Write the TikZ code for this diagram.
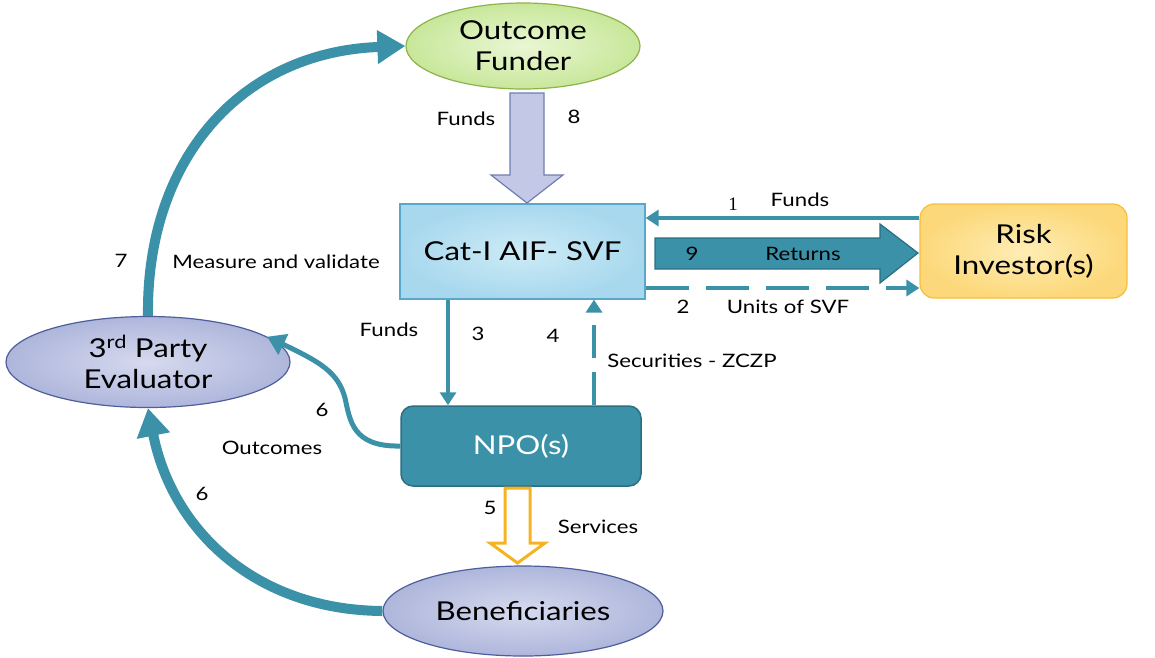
\documentclass[tikz,border=0pt]{standalone}
\usepackage{fontspec}
\setmainfont{Lato}[FakeStretch=1.2]
\newfontfamily\serifone{Liberation Serif}
\usetikzlibrary{arrows.meta,shapes.geometric}
\definecolor{tealc}{HTML}{3A91A8}
\definecolor{tealdk}{HTML}{2C6F83}
\definecolor{lavin}{HTML}{D6DAEF}
\definecolor{lavout}{HTML}{AEB6DB}
\definecolor{lavbd}{HTML}{4E5E9C}
\definecolor{grin}{HTML}{EAF7D4}
\definecolor{grout}{HTML}{C8E79A}
\definecolor{grbd}{HTML}{8DB34A}
\definecolor{bluin}{HTML}{CDEBF6}
\definecolor{bluout}{HTML}{A8D8EE}
\definecolor{blubd}{HTML}{5AA7C8}
\definecolor{yelin}{HTML}{FEEDB4}
\definecolor{yelout}{HTML}{FCD87A}
\definecolor{yelbd}{HTML}{F5BF3A}
\definecolor{orng}{HTML}{F5B324}
\definecolor{arrlav}{HTML}{C3C8E6}
\definecolor{arrlavbd}{HTML}{6D7DB3}
\begin{document}
\begin{tikzpicture}[x=1pt,y=-1pt,
  big/.style={font=\fontsize{26}{31}\selectfont, align=center},
  lbl/.style={font=\fontsize{18.5}{21}\selectfont, inner sep=0pt},
  ell/.style={ellipse, inner sep=0pt, line width=1.2pt, big},
  thin/.style={draw=tealc, line width=4pt, -{Triangle[length=13pt,width=16pt]}},
  thick/.style={draw=tealc, line width=10pt, -{Triangle[length=28pt,width=32pt]}}
]
\useasboundingbox (0,0) rectangle (1155,657);

% nodes
\node[ell, minimum width=234pt, minimum height=86pt, draw=grbd, inner color=grin, outer color=grout] (of) at (523,46) {Outcome\\Funder};
\node[big, rectangle, minimum width=245pt, minimum height=95pt, draw=blubd, line width=1.2pt, inner color=bluin, outer color=bluout] (cat) at (522.5,251.5) {Cat-I AIF- SVF};
\node[big, rectangle, rounded corners=14pt, minimum width=207pt, minimum height=94pt, draw=yelbd, line width=1.2pt, inner color=yelin, outer color=yelout] (ri) at (1023.5,251) {Risk\\Investor(s)};
\node[big, rectangle, rounded corners=12pt, minimum width=240pt, minimum height=80pt, draw=tealdk, line width=1.5pt, fill=tealc, text=white] (npo) at (521,446) {NPO(s)};
\node[ell, minimum width=280pt, minimum height=90pt, draw=lavbd, inner color=lavin, outer color=lavout] (ben) at (523,611) {Beneficiaries};
\node[ell, minimum width=284pt, minimum height=91pt, draw=lavbd, inner color=lavin, outer color=lavout] (ev) at (148,362) {3\textsuperscript{rd} Party\\Evaluator};

% block arrow 8
\draw[draw=arrlavbd, fill=arrlav, line width=1.2pt, line join=miter]
  (510,93) -- (544,93) -- (544,175) -- (563,175) -- (527,203) -- (491,175) -- (510,175) -- cycle;
% block arrow 9
\draw[draw=tealdk, fill=tealc, line width=1.2pt]
  (655,238) -- (880,238) -- (880,224) -- (918,253) -- (880,283) -- (880,269) -- (655,269) -- cycle;
% hollow arrow 5
\draw[draw=orng, line width=3pt, line join=miter]
  (505,488) -- (530,488) -- (530,543) -- (545,543) -- (517.5,563) -- (490,543) -- (505,543) -- cycle;

% thin arrows
\draw[thin] (ri.west |- 0,218) -- (cat.east |- 0,218);
\draw[thin, dash pattern=on 43pt off 17pt] (cat.east |- 0,288) -- (ri.west |- 0,288);
\draw[thin] (cat.south -| 448,0) -- (npo.north -| 448,0);
\draw[thin, dash pattern=on 33pt off 14pt] (npo.north -| 594,0) -- (cat.south -| 594,0);

% curved arrows
\draw[thick] (ev.north) .. controls (146,160) and (240,52) .. (of.west);
\draw[thick] (ben.west) .. controls (255,610) and (172,530) .. (ev.south);
\draw[draw=tealc, line width=5pt, -{Triangle[length=18pt,width=22pt]}]
  (npo.west) .. controls (352,447) and (350,420) .. (345,398) .. controls (338,372) and (320,362) .. (ev.12);

% labels
\node[lbl] (l8a) at (466,119) {Funds};
\node[lbl] (l8b) at (574,117) {8};
\node[lbl, font=\serifone\fontsize{19}{22}\selectfont] (l1a) at (733,204) {1};
\node[lbl] (l1b) at (800,200) {Funds};
\node[lbl] (l9a) at (692,254) {9};
\node[lbl] (l9b) at (803,254) {Returns};
\node[lbl] (l2a) at (683,307) {2};
\node[lbl] (l2b) at (788,307) {Units of SVF};
\node[lbl] (l3a) at (389,330) {Funds};
\node[lbl] (l3b) at (478,334) {3};
\node[lbl] (l4a) at (553,336) {4};
\node[lbl] (l4b) at (692,361) {Securities - ZCZP};
\node[lbl] (l7a) at (121,261) {7};
\node[lbl] (l7b) at (276,262) {Measure and validate};
\node[lbl] (l6a) at (322,410) {6};
\node[lbl] (l6b) at (272,448) {Outcomes};
\node[lbl] (l6c) at (202,494) {6};
\node[lbl] (l5a) at (490,508) {5};
\node[lbl] (l5b) at (598,527) {Services};
\end{tikzpicture}
\end{document}
